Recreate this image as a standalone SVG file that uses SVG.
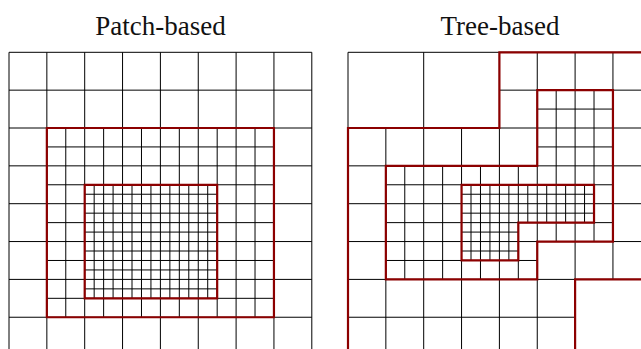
<svg xmlns="http://www.w3.org/2000/svg" width="641" height="349" viewBox="0 0 641 349">
<style>
.t{font-family:"Liberation Serif","Times New Roman",serif;font-size:27px;fill:#111;text-anchor:middle}
.g{fill:none;stroke:#000;stroke-width:1;vector-effect:non-scaling-stroke}
.r{fill:none;stroke:#8c0000;stroke-width:2.2;stroke-linejoin:miter;vector-effect:non-scaling-stroke}
</style>
<rect width="641" height="349" fill="#fff"/>
<g id="title-patch"><text class="t" x="160.5" y="34.5">Patch-based</text></g>
<g id="title-tree"><text class="t" x="500" y="34.5">Tree-based</text></g>
<g id="patch-based" transform="translate(9 52.3) scale(37.85)">
  <path class="g" d="M0 0V8M1 0V8M2 0V8M3 0V8M4 0V8M5 0V8M6 0V8M7 0V8M8 0V8M0 0H8M0 1H8M0 2H8M0 3H8M0 4H8M0 5H8M0 6H8M0 7H8M0 8H8"/>
  <path class="g" d="M1.5 2V7M2.5 2V7M3.5 2V7M4.5 2V7M5.5 2V7M6.5 2V7M1 2.5H7M1 3.5H7M1 4.5H7M1 5.5H7M1 6.5H7"/>
  <path class="g" d="M2.25 3.5V6.5M2.75 3.5V6.5M3.25 3.5V6.5M3.75 3.5V6.5M4.25 3.5V6.5M4.75 3.5V6.5M5.25 3.5V6.5M2 3.75H5.5M2 4.25H5.5M2 4.75H5.5M2 5.25H5.5M2 5.75H5.5M2 6.25H5.5"/>
  <path class="r" d="M1 2H7V7H1Z"/>
  <path class="r" d="M2 3.5H5.5V6.5H2Z"/>
</g>
<g id="tree-based" transform="translate(348 52.3) scale(37.85)">
  <path class="g" d="M0 0V8M2 0V8M4 0V8M6 0V8M8 0V8M0 0H8M0 2H8M0 4H8M0 6H8M0 8H8"/>
  <path class="g" d="M1 2V8M3 2V8M5 0V8M7 0V6M4 1H8M0 3H8M0 5H8M0 7H6"/>
  <path class="g" d="M1.5 3V6M2.5 3V6M3.5 3V6M4.5 3V6M5.5 1V5M6.5 1V5M5 1.5H7M5 2.5H7M1 3.5H7M1 4.5H7M1 5.5H5"/>
  <path class="g" d="M3.25 3.5V5.5M3.75 3.5V5.5M4.25 3.5V5.5M4.75 3.5V4.5M5.25 3.5V4.5M5.75 3.5V4.5M6.25 3.5V4.5M3 3.75H6.5M3 4.25H6.5M3 4.75H4.5M3 5.25H4.5"/>
  <path class="r" d="M0 8.5V2H4V0H8.5M6 8.5V6H8.5"/>
  <path class="r" d="M1 3H5V1H7V5H5V6H1Z"/>
  <path class="r" d="M3 3.5H6.5V4.5H4.5V5.5H3Z"/>
</g>
</svg>
